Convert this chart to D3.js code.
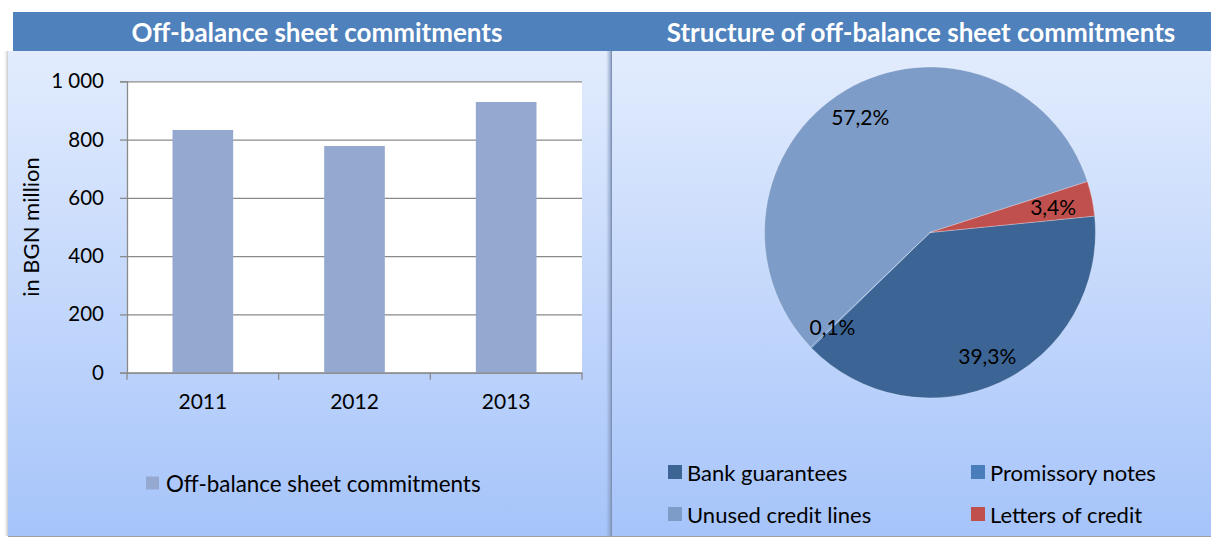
<!DOCTYPE html>
<html>
<head>
<meta charset="utf-8">
<script src="https://cdn.jsdelivr.net/npm/d3@7/dist/d3.min.js"></script>
<style>
  html, body { margin: 0; padding: 0; background: #ffffff; }
  svg { display: block; }
  text { font-family: Lato, "Open Sans", sans-serif; }
</style>
</head>
<body>
<svg id="chart" width="1211" height="537"></svg>
<script>
// ---- Data ----
const years = ["2011", "2012", "2013"];
const commitments = [833, 778, 929];          // BGN million
const yTicks = [0, 200, 400, 600, 800, 1000];
const yTickLabels = ["0", "200", "400", "600", "800", "1 000"];
const barSeriesName = "Off-balance sheet commitments";

const structureNames = ["Bank guarantees", "Promissory notes", "Unused credit lines", "Letters of credit"];
const structureShares = [39.3, 0.1, 57.2, 3.4];  // percent
const structureLabels = ["39,3%", "0,1%", "57,2%", "3,4%"];
const legendOrder = ["Bank guarantees", "Promissory notes", "Unused credit lines", "Letters of credit"];

const titles = ["Off-balance sheet commitments", "Structure of off-balance sheet commitments"];

// ---- Styles ----
const headerBlue = "#4F81BD";
const barColor = "#95A9D0";
const sliceColors = {
  "Bank guarantees": "#3C6596",
  "Promissory notes": "#4A7EBB",
  "Unused credit lines": "#7E9CC8",
  "Letters of credit": "#C0504D"
};

const svg = d3.select("#chart");
const defs = svg.append("defs");

const bg = defs.append("linearGradient")
  .attr("id", "panelBg").attr("x1", 0).attr("y1", 0).attr("x2", 0).attr("y2", 1);
bg.append("stop").attr("offset", "0%").attr("stop-color", "#E2ECFD");
bg.append("stop").attr("offset", "100%").attr("stop-color", "#A6C4FA");

const shadowL = defs.append("linearGradient")
  .attr("id", "shadowL").attr("x1", 0).attr("y1", 0).attr("x2", 1).attr("y2", 0);
shadowL.append("stop").attr("offset", "0%").attr("stop-color", "#ffffff").attr("stop-opacity", 0);
shadowL.append("stop").attr("offset", "100%").attr("stop-color", "#c8c8c8").attr("stop-opacity", 1);

const shadowD = defs.append("linearGradient")
  .attr("id", "shadowD").attr("x1", 0).attr("y1", 0).attr("x2", 1).attr("y2", 0);
shadowD.append("stop").attr("offset", "0%").attr("stop-color", "#8ea4c8").attr("stop-opacity", 0);
shadowD.append("stop").attr("offset", "100%").attr("stop-color", "#7f93b8").attr("stop-opacity", 0.8);

// ---- Panels & headers ----
const panelTop = 51, panelBottom = 536;
svg.append("rect").attr("x", 3).attr("y", panelTop).attr("width", 5).attr("height", panelBottom - panelTop)
  .attr("fill", "url(#shadowL)");
svg.append("rect").attr("x", 8).attr("y", panelTop).attr("width", 1203).attr("height", panelBottom - panelTop)
  .attr("fill", "url(#panelBg)");
svg.append("rect").attr("x", 606).attr("y", panelTop).attr("width", 5).attr("height", panelBottom - panelTop)
  .attr("fill", "url(#shadowD)");
svg.append("line").attr("x1", 611.5).attr("x2", 611.5).attr("y1", panelTop).attr("y2", panelBottom)
  .attr("stroke", "#7f92b6").attr("stroke-width", 1);
svg.append("line").attr("x1", 8).attr("x2", 1211).attr("y1", panelBottom + 0.5).attr("y2", panelBottom + 0.5)
  .attr("stroke", "#a0a0a0").attr("stroke-width", 1.2);

svg.append("rect").attr("x", 13).attr("y", 12).attr("width", 1198).attr("height", 39).attr("fill", headerBlue);
svg.selectAll("text.title").data(titles).join("text")
  .attr("class", "title")
  .attr("x", (d, i) => i === 0 ? 317 : 921)
  .attr("y", 32)
  .attr("text-anchor", "middle")
  .attr("dominant-baseline", "central")
  .attr("fill", "#ffffff")
  .attr("font-weight", "bold")
  .attr("font-size", 26)
  .text(d => d);

// ---- Bar chart ----
const plot = { left: 127, right: 582, top: 81.3, bottom: 372.7 };
const x = d3.scaleBand().domain(years).range([plot.left, plot.right]).padding(0);
const y = d3.scaleLinear().domain([0, 1000]).range([plot.bottom, plot.top]);

svg.append("rect").attr("x", plot.left).attr("y", plot.top)
  .attr("width", plot.right - plot.left).attr("height", plot.bottom - plot.top).attr("fill", "#ffffff");

// gridlines
svg.append("g")
  .attr("transform", `translate(${plot.left},0)`)
  .call(d3.axisLeft(y).tickValues(yTicks).tickSize(-(plot.right - plot.left)).tickFormat(""))
  .call(g => g.select(".domain").remove())
  .call(g => g.selectAll(".tick line").attr("stroke", "#8a8a8a").attr("stroke-width", 1.3));

// bars
const barW = x.bandwidth() * 0.4;
svg.append("g").selectAll("rect").data(years).join("rect")
  .attr("x", d => x(d) + (x.bandwidth() - barW) / 2)
  .attr("width", barW)
  .attr("y", (d, i) => y(commitments[i]))
  .attr("height", (d, i) => y(0) - y(commitments[i]))
  .attr("fill", barColor);

// y axis
const yAxis = svg.append("g")
  .attr("transform", `translate(${plot.left},0)`)
  .call(d3.axisLeft(y).tickValues(yTicks).tickSize(7).tickPadding(16)
    .tickFormat((d, i) => yTickLabels[i]));
yAxis.select(".domain").attr("stroke", "#8a8a8a").attr("stroke-width", 1.3);
yAxis.selectAll(".tick line").attr("stroke", "#8a8a8a").attr("stroke-width", 1.3);
yAxis.selectAll(".tick text").attr("font-size", 20.5).attr("fill", "#000")
  .attr("font-family", "Lato, sans-serif");

// x axis
const xAxis = svg.append("g")
  .attr("transform", `translate(0,${plot.bottom})`)
  .call(d3.axisBottom(x).tickSize(0).tickPadding(21));
xAxis.select(".domain").attr("stroke", "#8a8a8a").attr("stroke-width", 1.3);
xAxis.selectAll(".tick text").attr("font-size", 21).attr("fill", "#000")
  .attr("font-family", "Lato, sans-serif");
// category separator ticks
const sepPos = years.map(d => x(d)).concat([x(years[years.length - 1]) + x.bandwidth()]);
svg.append("g").selectAll("line").data(sepPos).join("line")
  .attr("x1", d => d).attr("x2", d => d)
  .attr("y1", plot.bottom).attr("y2", plot.bottom + 7)
  .attr("stroke", "#8a8a8a").attr("stroke-width", 1.3);

// y title
svg.append("text")
  .attr("transform", `translate(30,${(plot.top + plot.bottom) / 2}) rotate(-90)`)
  .attr("text-anchor", "middle")
  .attr("dominant-baseline", "central")
  .attr("font-size", 22)
  .attr("fill", "#000")
  .text("in BGN million");

// bar legend
const barLegend = svg.append("g").attr("transform", "translate(146,483)");
barLegend.append("rect").attr("x", 0).attr("y", -6.5).attr("width", 13).attr("height", 13).attr("fill", barColor);
barLegend.append("text").attr("x", 20).attr("y", 0).attr("dominant-baseline", "central")
  .attr("font-size", 22.4).attr("fill", "#000").text(barSeriesName);

// ---- Pie chart ----
const cx = 930, cy = 232.5, R = 165.5;
const start = 84.3 * Math.PI / 180;
const pie = d3.pie().sort(null).value(d => d.v).startAngle(start).endAngle(start + 2 * Math.PI);
const slices = pie(structureNames.map((n, i) => ({ n, v: structureShares[i], label: structureLabels[i] })));
const arc = d3.arc().innerRadius(0).outerRadius(R);

const pieG = svg.append("g").attr("transform", `translate(${cx},${cy})`);
pieG.selectAll("path").data(slices).join("path")
  .attr("d", arc)
  .attr("fill", d => sliceColors[d.data.n])
  .attr("stroke", "rgba(255,255,255,0.35)")
  .attr("stroke-width", 0.8);

pieG.selectAll("text").data(slices).join("text")
  .attr("transform", d => {
    const r = d.data.v < 1 || d.data.v > 5 ? R * 0.82 : R * 0.76;
    const c = d3.arc().innerRadius(r).outerRadius(r).centroid(d);
    return `translate(${c[0]},${c[1]})`;
  })
  .attr("text-anchor", "middle")
  .attr("dominant-baseline", "central")
  .attr("font-size", 21)
  .attr("fill", "#000")
  .text(d => d.data.label);

// pie legend
const legendPos = [
  { x: 668, y: 472 }, { x: 971, y: 472 },
  { x: 668, y: 514 }, { x: 971, y: 514 }
];
const pieLegend = svg.append("g").selectAll("g").data(legendOrder).join("g")
  .attr("transform", (d, i) => `translate(${legendPos[i].x},${legendPos[i].y})`);
pieLegend.append("rect").attr("x", 0).attr("y", -7).attr("width", 14).attr("height", 14)
  .attr("fill", d => sliceColors[d]);
pieLegend.append("text").attr("x", 19).attr("y", 0).attr("dominant-baseline", "central")
  .attr("font-size", 22).attr("fill", "#000").text(d => d);
</script>
</body>
</html>
